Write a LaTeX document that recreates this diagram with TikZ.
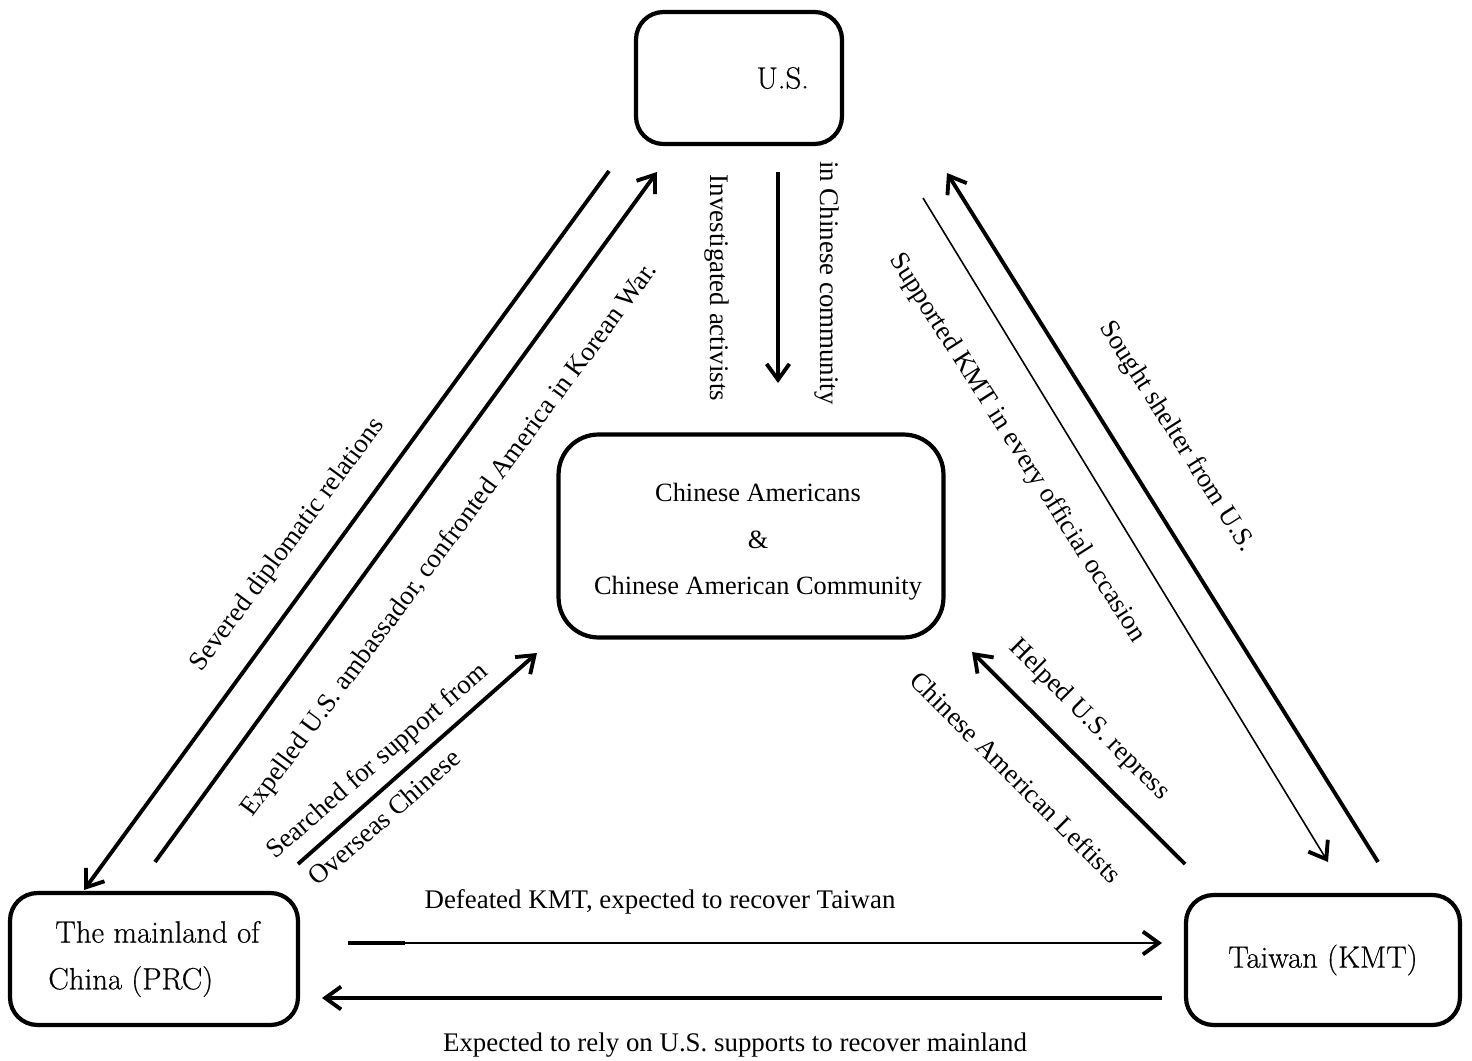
\documentclass[tikz,border=0pt]{standalone}
\usepackage{fontspec}
\newfontfamily\lblfont{Liberation Serif}
\newfontfamily\boxfont[FakeBold=0.5]{Latin Modern Roman}
\usetikzlibrary{arrows.meta}
\begin{document}
\begin{tikzpicture}
[
    x=0.02cm, y=-0.02cm,
    box/.style={draw, line width=2.4pt, rounded corners=0.55cm, align=center, font=\boxfont\fontsize{17.5}{26.6}\selectfont},
    barbtip/.style={-{Straight Barb[length=9pt,width=13pt,line width=2.2pt]}},
    heavy/.style={line width=2.2pt, barbtip},
    light/.style={line width=0.9pt, barbtip},
    lbl/.style={font=\lblfont\fontsize{15.3}{18}\selectfont, inner sep=0pt},
]
\useasboundingbox (0,0) rectangle (1472,1061);

\node[box, minimum width=4.12cm, minimum height=2.64cm] (us) at (739,78) {\hspace*{1.75cm}U.S.};
\node[box, rounded corners=0.8cm, minimum width=7.7cm, minimum height=4.06cm,
      font=\lblfont\fontsize{15}{26.6}\selectfont] (cac) at (751,536)
      {\rule{0pt}{17pt}\hspace*{0.28cm}Chinese Americans\\\hspace*{0.28cm}\&\\\hspace*{0.28cm}Chinese American Community};
\node[box, align=left, minimum width=5.76cm, minimum height=2.64cm] (prc) at (154,959)
      {\hspace*{0.14cm}The mainland of\\China (PRC)};
\node[box, minimum width=5.48cm, minimum height=2.6cm] (twn) at (1323,960) {Taiwan (KMT)};

\coordinate (sevA) at (609,171);
\coordinate (sevB) at (84,890);
\coordinate (expA) at (155,862);
\coordinate (expB) at (657,172);
\coordinate (srchA) at (298,864);
\coordinate (srchB) at (537,653);
\coordinate (invA) at (778,172);
\coordinate (invB) at (778,383);
\coordinate (supA) at (923,198);
\coordinate (supB) at (1328,862);
\coordinate (shlA) at (1378,862);
\coordinate (shlB) at (947,173);
\coordinate (hlpA) at (1185,864);
\coordinate (hlpB) at (972,652);
\coordinate (defA) at (348,943);
\coordinate (defC) at (405,943);
\coordinate (defB) at (1162,943);
\coordinate (relA) at (1162,998);
\coordinate (relB) at (322,998);

\draw[heavy] (sevA) -- (sevB);
\draw[heavy] (expA) -- (expB);
\draw[heavy] (srchA) -- (srchB);
\draw[heavy] (invA) -- (invB);
\draw[light] (supA) -- (supB);
\draw[heavy] (shlA) -- (shlB);
\draw[heavy] (hlpA) -- (hlpB);
\draw[light] (defA) -- (defB);
\draw[line width=2.2pt] (defA) -- (defC);
\draw[heavy] (relA) -- (relB);

\node[lbl, rotate=53.5] (lsev) at (288,545) {Severed diplomatic relations};
\node[lbl, rotate=53.5] (lexp) at (450,540) {Expelled U.S. ambassador, confronted America in Korean War.};
\node[lbl, rotate=41] (lsrch) at (378,762) {Searched for support from};
\node[lbl, rotate=41] (lovs) at (384,817) {Overseas Chinese};
\node[lbl, rotate=-90] (linv) at (717,288) {Investigated activists};
\node[lbl, rotate=-90] (lcom) at (827,283) {in Chinese community};
\node[lbl, rotate=-57.5] (lsup) at (1017,448) {Supported KMT in every official occasion};
\node[lbl, rotate=-57.5] (lshl) at (1177,437) {Sought shelter from U.S.};
\node[lbl, rotate=-45] (lhlp) at (1089,720) {Helped U.S. repress};
\node[lbl, rotate=-45] (llft) at (1016,777) {Chinese American Leftists};
\node[lbl] (ldef) at (660,902) {Defeated KMT, expected to recover Taiwan};
\node[lbl] (lrel) at (735,1045) {Expected to rely on U.S. supports to recover mainland};
\end{tikzpicture}
\end{document}
